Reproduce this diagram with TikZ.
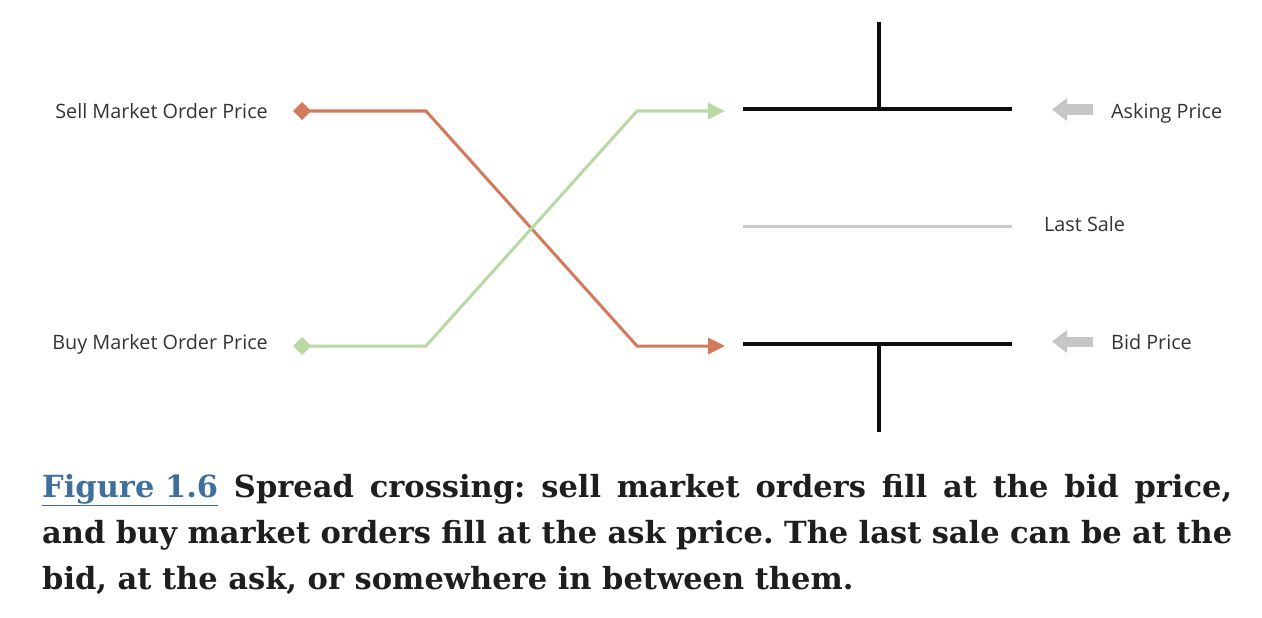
\documentclass[tikz,border=0pt]{standalone}
\usepackage{fontspec}
\setmainfont{DejaVu Serif}
\newfontfamily\labelfont{Open Sans}
\usetikzlibrary{positioning,arrows.meta,calc}
\definecolor{sellred}{HTML}{D27A5C}
\definecolor{buygreen}{HTML}{B8D8A4}
\definecolor{pointgrey}{HTML}{C6C6C6}
\definecolor{salegrey}{HTML}{C9CAD2}
\definecolor{figblue}{HTML}{3F6F9B}
\definecolor{captext}{HTML}{1E1E1E}

\begin{document}
\begin{tikzpicture}[x=1pt, y=-1pt,
    label_text/.style={inner sep=0pt, font=\labelfont\fontsize{19.8}{22}\selectfont, text=black!80},
    order_line/.style={line width=3pt, {Diamond[length=18pt,width=18pt]}-{Triangle[length=17pt,width=16pt]}},
    quote_line/.style={line width=3.5pt, black!95},
    pointer/.style={line width=10pt, pointgrey, -{Triangle[length=15pt,width=22pt]}}]
    \useasboundingbox (0,0) rectangle (1262,618);

    % order prices on the left
    \node[label_text, anchor=base east] (sellLabel) at (268,118) {Sell Market Order Price};
    \node[label_text, anchor=base east] (buyLabel) at (268,349) {Buy Market Order Price};
    \coordinate (sellStart) at (293,111);
    \coordinate (buyStart) at (293,346);
    \coordinate (sellEnd) at (725,346);
    \coordinate (buyEnd) at (725,111);

    \draw[order_line, sellred] (sellStart) -- (426,111) -- (637,346) -- (sellEnd);
    \draw[order_line, buygreen] (buyStart) -- (426,346) -- (637,111) -- (buyEnd);

    % quotes on the right
    \coordinate (askLeft) at (743,109);
    \coordinate (askRight) at (1012,109);
    \coordinate (bidLeft) at (743,344);
    \coordinate (bidRight) at (1012,344);
    \coordinate (saleLeft) at (743,226);
    \coordinate (saleRight) at (1012,226);
    \draw[quote_line] (askLeft) -- (askRight);
    \draw[quote_line] ($(askLeft)!0.506!(askRight)$) -- ++(0,-87);
    \draw[quote_line] (bidLeft) -- (bidRight);
    \draw[quote_line] ($(bidLeft)!0.506!(bidRight)$) -- ++(0,88);
    \draw[line width=3pt, salegrey] (saleLeft) -- (saleRight);

    \node[label_text, anchor=base west] (askLabel) at (1111,118) {Asking Price};
    \node[label_text, anchor=base west] (saleLabel) at (1044,231) {Last Sale};
    \node[label_text, anchor=base west] (bidLabel) at (1111,349) {Bid Price};
    \coordinate (askTail) at (1093,109.5);
    \coordinate (bidTail) at (1093,341.5);
    \draw[pointer] (askTail) -- (1052,109.5);
    \draw[pointer] (bidTail) -- (1052,341.5);

    % caption
    \node[anchor=north west, inner sep=0pt, text width=1190pt, align=justify,
          font=\bfseries\fontsize{30.5}{46}\selectfont\frenchspacing, text=captext] (caption) at (42,474)
        {\hyphenpenalty=10000\relax\textcolor{figblue}{\underline{Figure 1.6}} Spread crossing: sell market orders fill at the bid price,\linebreak and buy market orders fill at the ask price. The last sale can be at the\linebreak bid, at the ask, or somewhere in between them.};
\end{tikzpicture}
\end{document}
